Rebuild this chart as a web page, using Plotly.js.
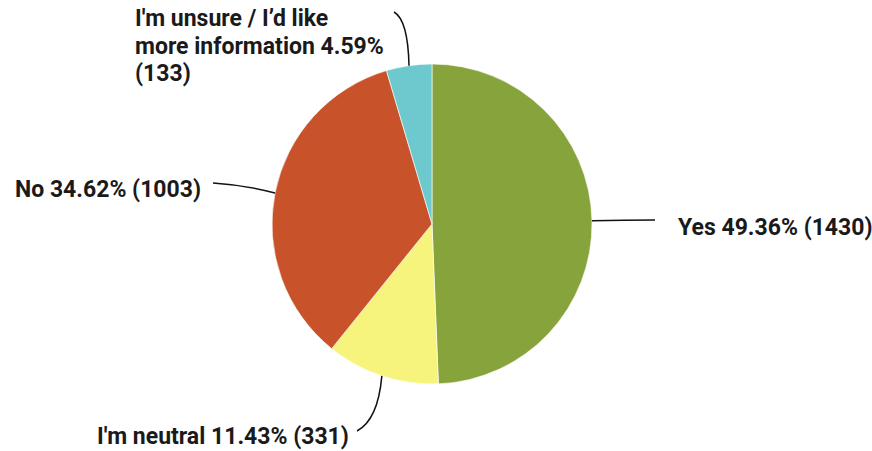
<!DOCTYPE html>
<html>
<head>
<meta charset="utf-8">
<script src="https://cdn.plot.ly/plotly-3.0.1.min.js"></script>
<style>html,body{margin:0;padding:0;background:#fff;}#chart{width:872px;height:451px;}</style>
</head>
<body>
<div id="chart"></div>
<script>
// Data
const categories = ["Yes", "I'm neutral", "No", "I'm unsure / I\u2019d like more information"];
const labelLines = [["Yes"], ["I'm neutral"], ["No"], ["I'm unsure / I\u2019d like", "more information"]];
const counts = [1430, 331, 1003, 133];
const colors = ["#87a33b", "#f7f47e", "#c8532a", "#6ec9cf"];

const W = 872, H = 451;
const cx = 432, cy = 224, R = 160;
const LINE_H = 27;

// label anchor (left edge x, first-line centre y) and leader-line far ends, in pixels
const labelPos = [
  {x: 676, y: 228, lx: 655, ly: 220, qx: 625, qy: 220, wrap: false},
  {x: 95,  y: 436, lx: 357, ly: 431, qx: 378, qy: 420, wrap: false},
  {x: 13,  y: 189, lx: 213, ly: 183, qx: 245, qy: 185, wrap: false},
  {x: 133, y: 19,  lx: 394, ly: 12,  qx: 408, qy: 20,  wrap: true}
];

const total = counts.reduce((a, b) => a + b, 0);
const px = x => x / W;
const py = y => 1 - y / H;
const font = {family: "Roboto, 'DejaVu Sans', sans-serif", size: 23, color: "#1a1a1a", weight: 700};

const annotations = [];
const shapes = [];
let cum = 0;
counts.forEach((v, i) => {
  const mid = (cum + v / 2) / total * 2 * Math.PI;
  cum += v;
  const ex = cx + R * Math.sin(mid);
  const ey = cy - R * Math.cos(mid);
  const p = labelPos[i];
  const pct = (v / total * 100).toFixed(2) + "%";
  let lines;
  if (p.wrap) {
    lines = labelLines[i].slice();
    lines[lines.length - 1] += " " + pct;
    lines.push("(" + v + ")");
  } else {
    lines = [labelLines[i].join(" ") + " " + pct + " (" + v + ")"];
  }
  lines.forEach((t, k) => {
    annotations.push({
      xref: "paper", yref: "paper", x: px(p.x), y: py(p.y + k * LINE_H),
      xanchor: "left", yanchor: "middle", align: "left",
      text: t, showarrow: false, font: font
    });
  });
  shapes.push({
    type: "path", xref: "paper", yref: "paper",
    path: `M ${px(p.lx)} ${py(p.ly)} Q ${px(p.qx)} ${py(p.qy)} ${px(ex)} ${py(ey)}`,
    line: {color: "#111", width: 1.5}
  });
});

const trace = {
  type: "pie",
  labels: categories,
  values: counts,
  sort: false,
  direction: "clockwise",
  rotation: 0,
  textinfo: "none",
  hoverinfo: "label+value+percent",
  marker: {colors: colors, line: {color: "#ffffff", width: 0.6}},
  domain: {x: [px(cx - R), px(cx + R)], y: [py(cy + R), py(cy - R)]},
  showlegend: false
};

const layout = {
  width: W, height: H,
  margin: {l: 0, r: 0, t: 0, b: 0},
  paper_bgcolor: "#ffffff",
  showlegend: false,
  annotations: annotations,
  shapes: shapes
};

Plotly.newPlot("chart", [trace], layout, {displayModeBar: false, staticPlot: true});
</script>
</body>
</html>
